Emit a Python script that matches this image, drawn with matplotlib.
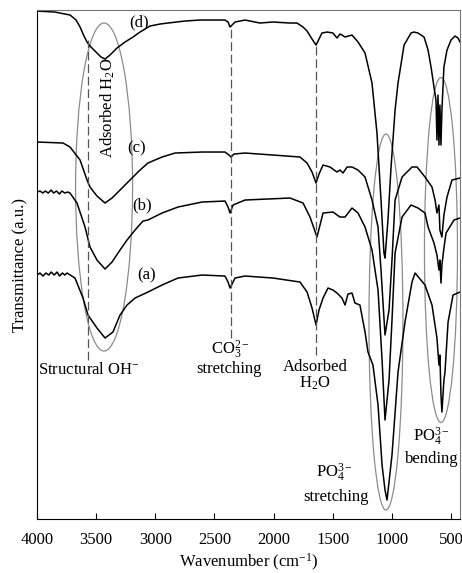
import matplotlib.pyplot as plt
from matplotlib.patches import Ellipse

plt.rcParams['font.family'] = ['Liberation Serif', 'DejaVu Serif']
plt.rcParams['mathtext.fontset'] = 'custom'
plt.rcParams['mathtext.rm'] = 'Liberation Serif'
plt.rcParams['mathtext.it'] = 'Liberation Serif:italic'
plt.rcParams['font.size'] = 12

# FTIR spectra, offset vertically (a.u.)
wn_d = [4000, 3850, 3720, 3670, 3636, 3603, 3577, 3552, 3493, 3459, 3425, 3383, 3324, 3256,
        3188, 3129, 3045, 2960, 2893, 2749, 2622, 2411, 2385, 2368, 2351, 2326, 2242, 2115,
        2005, 1861, 1802, 1751, 1717, 1675, 1641, 1616, 1591, 1548, 1498, 1464, 1439, 1422,
        1396, 1337, 1286, 1227, 1168, 1126, 1092, 1067, 1058, 1033, 1007, 973, 948, 897, 838,
        813, 779, 728, 694, 669, 644, 627, 619, 610, 602, 594, 585, 577, 560, 534, 500, 466,
        441, 424]
tr_d = [50.8, 50.7, 50.4, 49.9, 49.2, 48.3, 47.7, 47.3, 46.6, 46.2, 46.0, 46.4, 47.1, 47.7,
        48.2, 48.7, 49.3, 49.5, 49.6, 49.8, 49.9, 49.9, 49.7, 49.2, 49.4, 49.7, 49.9, 49.6,
        49.7, 49.6, 49.6, 49.2, 48.8, 48.0, 47.4, 48.0, 48.6, 48.7, 48.6, 48.1, 48.5, 48.4,
        48.2, 48.4, 47.7, 46.6, 43.6, 38.6, 31.9, 26.6, 26.1, 29.9, 35.2, 40.9, 43.6, 47.4, 48.6,
        48.7, 48.6, 48.2, 46.9, 45.2, 43.2, 41.9, 37.9, 42.4, 37.4, 41.4, 37.4, 40.9, 45.2, 46.9,
        47.9, 48.3, 48.1, 47.7]

wn_c = [4000, 3780, 3721, 3636, 3577, 3552, 3493, 3425, 3366, 3298, 3214, 3129, 3062, 2943,
        2833, 2605, 2411, 2377, 2360, 2335, 2242, 2005, 1777, 1717, 1675, 1641, 1616, 1582,
        1523, 1464, 1439, 1413, 1379, 1337, 1286, 1227, 1168, 1117, 1092, 1058, 1024, 999, 973,
        914, 830, 787, 720, 661, 635, 619, 602, 594, 577, 560, 534, 492, 424]
tr_c = [37.7, 37.6, 37.2, 35.9, 33.9, 33.2, 32.3, 31.6, 32.1, 32.9, 33.9, 34.9, 35.6, 36.2,
        36.6, 36.7, 36.7, 36.4, 36.2, 36.5, 36.6, 36.4, 36.2, 35.6, 34.7, 33.6, 34.5, 35.4,
        35.2, 34.7, 34.9, 34.6, 35.2, 35.2, 34.9, 34.2, 31.9, 29.2, 24.9, 18.4, 20.9, 25.9, 31.9,
        34.2, 35.2, 35.2, 34.2, 33.2, 31.9, 30.6, 31.4, 28.9, 28.2, 30.4, 32.2, 33.9, 34.1]

wn_b = [4000, 3975, 3950, 3930, 3905, 3880, 3860, 3835, 3810, 3790, 3765, 3740, 3721, 3662,
        3594, 3552, 3493, 3425, 3366, 3298, 3239, 3171, 3104, 3062, 2943, 2808, 2605, 2411,
        2385, 2368, 2343, 2242, 1861, 1751, 1692, 1633, 1582, 1498, 1439, 1396, 1337, 1286,
        1227, 1168, 1117, 1083, 1058, 1024, 999, 973, 914, 838, 779, 720, 694, 644, 619, 602,
        594, 585, 577, 560, 542, 475, 424]
tr_b = [32.7, 32.8, 32.6, 32.8, 32.6, 32.9, 32.6, 32.8, 32.5, 32.8, 32.6, 32.7, 32.6, 31.6,
        29.2, 27.2, 25.9, 25.0, 25.7, 26.9, 27.9, 28.9, 29.8, 29.9, 30.6, 31.2, 31.7, 31.8,
        31.2, 30.6, 31.4, 31.9, 32.1, 31.6, 30.2, 28.2, 30.6, 30.7, 30.2, 30.2, 31.1, 30.6,
        29.2, 26.9, 22.9, 15.9, 9.9, 13.9, 19.9, 26.6, 30.2, 31.4, 31.1, 30.6, 29.2, 27.6, 26.4,
        24.9, 25.9, 23.6, 25.4, 27.1, 28.6, 29.9, 30.1]

wn_a = [4000, 3975, 3950, 3925, 3900, 3880, 3855, 3830, 3810, 3785, 3765, 3746, 3679, 3611,
        3569, 3493, 3425, 3358, 3298, 3239, 3171, 3062, 2943, 2808, 2605, 2411, 2385, 2368,
        2351, 2326, 2242, 2005, 1777, 1717, 1675, 1641, 1616, 1582, 1540, 1498, 1464, 1422,
        1396, 1371, 1337, 1312, 1270, 1227, 1202, 1160, 1117, 1083, 1058, 1041, 999, 948, 889,
        830, 804, 720, 661, 619, 602, 594, 585, 577, 560, 551, 525, 483, 424]
tr_a = [24.4, 24.6, 24.3, 24.6, 24.4, 24.7, 24.4, 24.7, 24.3, 24.6, 24.4, 24.6, 24.1, 22.1,
        20.4, 19.1, 18.1, 18.7, 20.4, 21.4, 22.1, 22.7, 23.4, 24.1, 24.4, 24.3, 23.7, 23.1,
        23.5, 24.1, 24.3, 24.1, 23.7, 22.7, 21.1, 19.4, 20.9, 22.1, 23.1, 22.9, 22.6, 22.1,
        21.4, 22.5, 22.6, 21.6, 21.4, 18.7, 16.7, 15.4, 11.4, 5.4, 2.9, 1.9, 6.4, 14.7, 19.7,
        23.7, 24.6, 23.4, 21.4, 18.1, 15.4, 16.4, 12.4, 10.7, 13.9, 14.7, 19.7, 22.4, 22.7]

# band positions (cm-1) marked by dashed lines, with their vertical extent
band_wn = [3570, 2360, 1640]
band_top = [47.9, 49.2, 47.4]
band_bottom = [15.9, 18.1, 16.4]

# highlighted regions: centre wavenumber, centre height, width (cm-1), height
ell_x = [3433, 1050, 585]
ell_y = [33.2, 19.7, 26.9]
ell_w = [482, 287, 279]
ell_h = [32.8, 37.6, 34.5]

fig = plt.figure(figsize=(4.62, 5.73), dpi=100)
ax = fig.add_axes([0.0801, 0.0942, 0.9156, 0.8883])

for wn, tr in [(wn_a, tr_a), (wn_b, tr_b), (wn_c, tr_c), (wn_d, tr_d)]:
    ax.plot(wn, tr, color='black', lw=1.1)

for x, y, w, h in zip(ell_x, ell_y, ell_w, ell_h):
    ax.add_patch(Ellipse((x, y), w, h, fill=False, edgecolor='#8c8c8c', lw=0.9))

for x, y0, y1 in zip(band_wn, band_bottom, band_top):
    ax.plot([x, x], [y0, y1], color='#555555', lw=0.9, dashes=(7, 3))

ax.text(3138, 49.7, '(d)', ha='center', va='center')
ax.text(3155, 37.1, '(c)', ha='center', va='center')
ax.text(3112, 31.4, '(b)', ha='center', va='center')
ax.text(3070, 24.4, '(a)', ha='center', va='center')

ax.text(3400, 41.1, 'Adsorbed H$_2$O', rotation=90, ha='center', va='center')
ax.text(3560, 14.9, 'Structural OH$^{-}$', ha='center', va='center')
ax.text(2368, 16.9, 'CO$_3^{2-}$', ha='center', va='center')
ax.text(2377, 15.0, 'stretching', ha='center', va='center')
ax.text(1650, 15.2, 'Adsorbed', ha='center', va='center')
ax.text(1650, 13.6, 'H$_2$O', ha='center', va='center')
ax.text(1489, 4.6, 'PO$_4^{3-}$', ha='center', va='center')
ax.text(1472, 2.2, 'stretching', ha='center', va='center')
ax.text(669, 8.2, 'PO$_4^{3-}$', ha='center', va='center')
ax.text(661, 6.0, 'bending', ha='center', va='center')

ax.set_xlim(4000, 424)
ax.set_ylim(0, 50.9)
ax.set_xticks([4000, 3500, 3000, 2500, 2000, 1500, 1000, 500])
ax.set_yticks([])
ax.tick_params(axis='x', direction='in', length=4, width=0.8, pad=9, labelsize=12)
ax.spines['top'].set_color('#777777')
ax.spines['right'].set_color('#777777')
ax.set_xlabel('Wavenumber (cm$^{-1}$)', fontsize=12, labelpad=3)
ax.set_ylabel('Transmittance (a.u.)', fontsize=12, labelpad=6)

fig.savefig('out.png', dpi=100)
